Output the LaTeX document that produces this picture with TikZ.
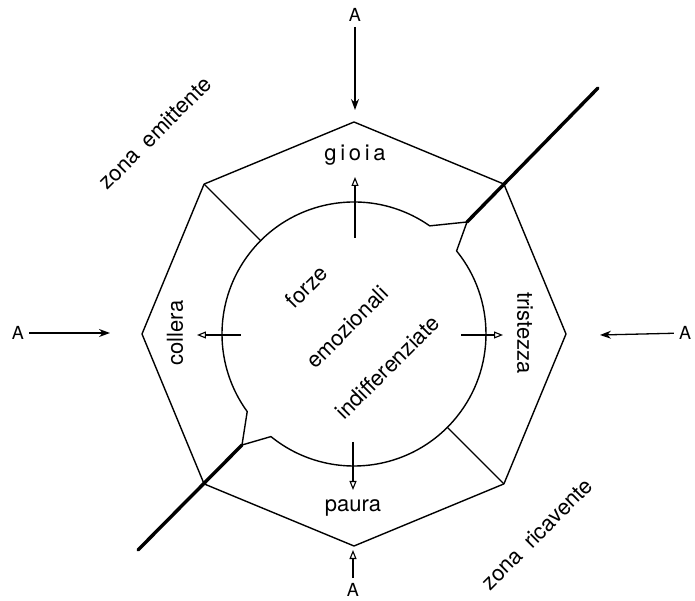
\documentclass[tikz,border=0pt]{standalone}
\usepackage{fontspec}
\setmainfont{TeX Gyre Heros}
\usetikzlibrary{arrows.meta}

\begin{document}
\begin{tikzpicture}[x=1pt,y=1pt,
    thinline/.style={line width=1.4pt, line join=round},
    cutline/.style={line width=3.4pt, line cap=round},
    inarrow/.style={line width=1.1pt, -{Triangle[open, length=9pt, width=7pt]}},
    outarrow/.style={line width=1.3pt, -{Stealth[length=11pt, width=8pt]}},
    lab/.style={font=\fontsize{22}{26}\selectfont, inner sep=0pt},
    alab/.style={font=\fontsize{18}{20}\selectfont, inner sep=5pt}]
      \useasboundingbox (-354,-267) rectangle (341,334);
      \foreach \i in {0,...,7} \coordinate (v\i) at (\i*45:212);
      \coordinate (cuttop) at (244,246);
      \coordinate (cutbot) at (-216,-216);
      \coordinate (n1) at (113,112);
      \coordinate (n2) at (-112,-111);
      \coordinate (s1) at (135:132);
      \coordinate (s2) at (315:132);

      \path [draw,thinline] (v0) -- (v1) -- (v2) -- (v3) -- (v4) -- (v5) -- (v6) -- (v7) -- cycle;
      \path [draw,thinline] (55:132) arc[start angle=55, end angle=216, radius=132] -- (n2)
        -- (231:132) arc[start angle=231, end angle=399, radius=132] -- (n1) -- cycle;
      \path [draw,thinline] (v3) -- (s1);
      \path [draw,thinline] (v7) -- (s2);
      \path [draw,cutline] (n1) -- (cuttop);
      \path [draw,cutline] (cutbot) -- (n2);

      \node[lab] (gioia) at (1,179) {g\,i\,o\,i\,a};
      \node[lab] (paura) at (-1,-174) {paura};
      \node[lab,rotate=90] (collera) at (-179,1) {collera};
      \node[lab,rotate=-90] (tristezza) at (171,1) {tristezza};
      \node[lab,rotate=45,align=center,font=\fontsize{22}{57}\selectfont] (forze) at (-7,7)
        {forze\\emozionali\\indifferenziate};
      \node[lab,rotate=45] (emit) at (-199,201) {zona\enspace emittente};
      \node[lab,rotate=45] (ricev) at (183,-200) {zona\enspace ricavente};

      \coordinate (iu0) at (1,96);    \coordinate (iu1) at (1,157);
      \coordinate (id0) at (-1,-108); \coordinate (id1) at (-1,-156);
      \coordinate (il0) at (-113,-1); \coordinate (il1) at (-157,-1);
      \coordinate (ir0) at (107,-1);  \coordinate (ir1) at (149,-1);
      \path [draw,inarrow] (iu0) -- (iu1);
      \path [draw,inarrow] (id0) -- (id1);
      \path [draw,inarrow] (il0) -- (il1);
      \path [draw,inarrow] (ir0) -- (ir1);

      \node[alab] (atop) at (1,319) {A};
      \node[alab] (aleft) at (-336,1) {A};
      \node[alab] (aright) at (331,1) {A};
      \node[alab] (abot) at (-1,-256) {A};
      \coordinate (ttop) at (1,224);
      \coordinate (tleft) at (-244,1);
      \coordinate (tright) at (246,-1);
      \coordinate (tbot) at (-1,-216);
      \path [draw,outarrow] (atop) -- (ttop);
      \path [draw,outarrow] (aleft) -- (tleft);
      \path [draw,outarrow] (aright) -- (tright);
      \path [draw,inarrow] (abot) -- (tbot);
\end{tikzpicture}
\end{document}
